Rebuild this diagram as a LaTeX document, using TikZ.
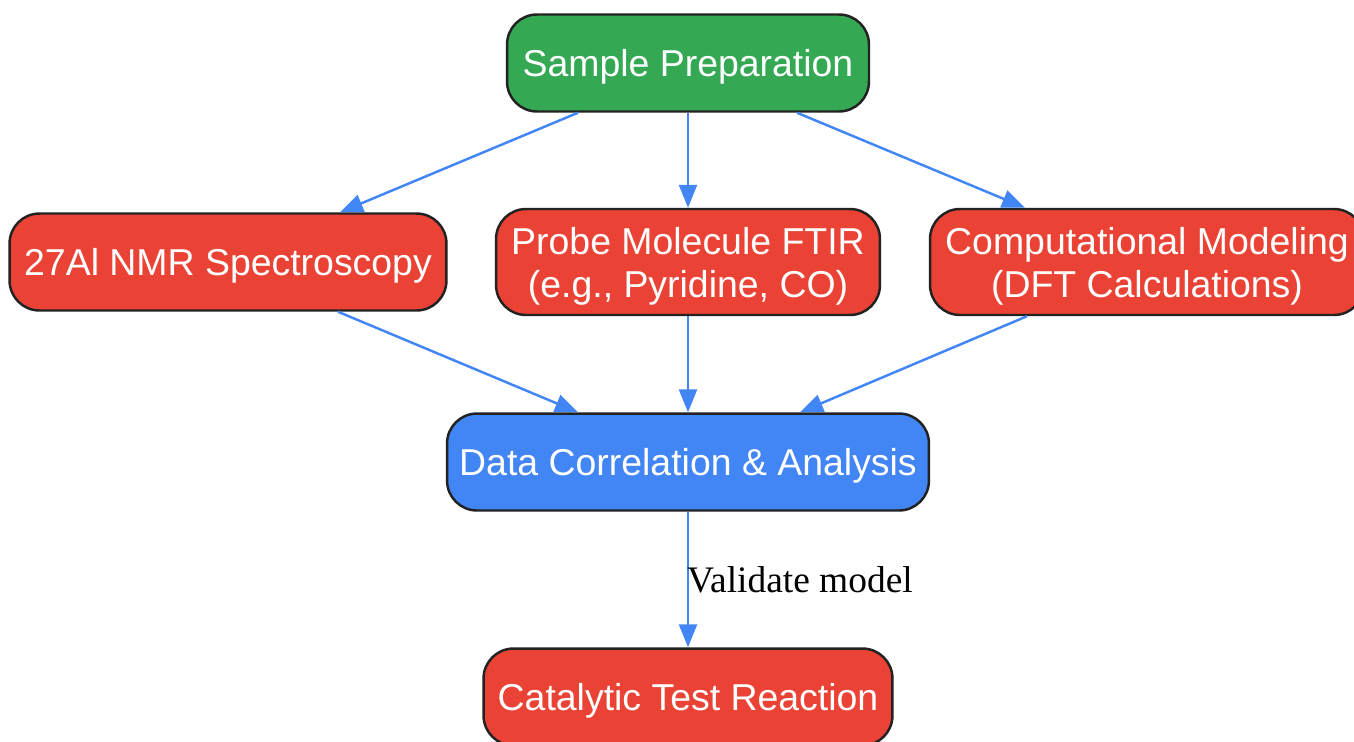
\documentclass[tikz,border=0pt]{standalone}
\usepackage{fontspec}
\setmainfont{Liberation Serif}
\setsansfont{Liberation Sans}
\usetikzlibrary{arrows.meta}
\definecolor{gGreen}{HTML}{34A853}
\definecolor{gRed}{HTML}{EA4335}
\definecolor{gBlue}{HTML}{4285F4}
\definecolor{edge}{HTML}{222222}
\tikzset{
	stage/.style={draw=edge, line width=1.4pt, rounded corners=0.6cm, text=white, font=\sffamily\fontsize{21.3}{24.5}\selectfont, align=center, minimum height=1.94cm, inner sep=0pt, text depth=0pt},
	link/.style={->, draw=gBlue, line width=1.4pt},
}

\begin{document}
\begin{tikzpicture}[>={Triangle[length=0.46cm,width=0.36cm]}, x=0.02cm, y=-0.02cm]
		\useasboundingbox (0,0) rectangle (1354,741);
		\node[stage, fill=gGreen, minimum width=7.24cm] (prep) at (688,63) {Sample Preparation};
		\node[stage, fill=gRed, minimum width=8.74cm] (nmr) at (228,262) {27Al NMR Spectroscopy};
		\node[stage, fill=gRed, minimum width=7.68cm, minimum height=2.12cm] (ftir) at (688,262) {Probe Molecule FTIR\\(e.g., Pyridine, CO)};
		\node[stage, fill=gRed, minimum width=8.68cm, minimum height=2.12cm] (dft) at (1147,262) {Computational Modeling\\(DFT Calculations)};
		\node[stage, fill=gBlue, minimum width=9.64cm] (data) at (688,462) {Data Correlation \& Analysis};
		\node[stage, fill=gRed, minimum width=8.18cm] (test) at (688,697) {Catalytic Test Reaction};
		\draw[link] ([xshift=-2.2cm]prep.south) -- ([xshift=2.24cm]nmr.north);
		\draw[link] (prep) -- (ftir);
		\draw[link] ([xshift=2.18cm]prep.south) -- ([xshift=-2.44cm]dft.north);
		\draw[link] ([xshift=2.2cm]nmr.south) -- ([xshift=-2.2cm]data.north);
		\draw[link] (ftir) -- (data);
		\draw[link] ([xshift=-2.4cm]dft.south) -- ([xshift=2.24cm]data.north);
		\draw[link] (data) -- node[anchor=west, inner sep=0pt, xshift=-0.04cm, font=\fontsize{21.3}{24}\selectfont] {Validate model} (test);
	\end{tikzpicture}
\end{document}
